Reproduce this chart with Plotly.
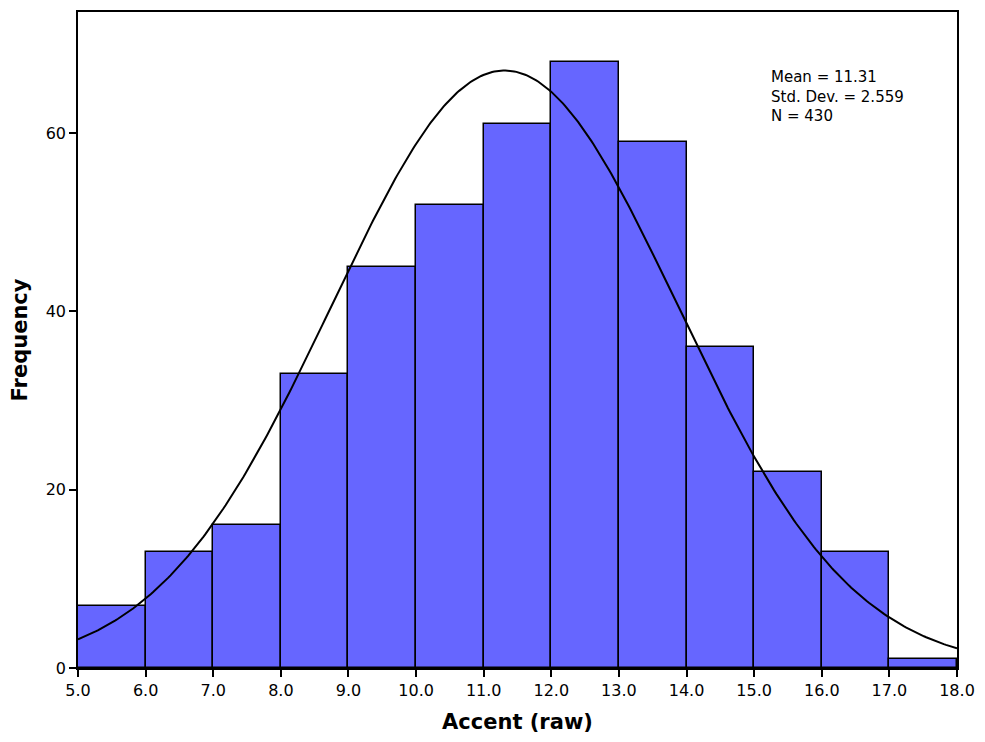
import numpy as np
import plotly.graph_objects as go

# histogram bins (left edges, width 1) and counts
bin_starts = [5, 6, 7, 8, 9, 10, 11, 12, 13, 14, 15, 16, 17]
counts = [7, 13, 16, 33, 45, 52, 61, 68, 59, 36, 22, 13, 1]
bin_width = 1.0

# summary stats printed on the chart
mean = 11.31
std_dev = 2.559
n_obs = 430

x_ticks = [5, 6, 7, 8, 9, 10, 11, 12, 13, 14, 15, 16, 17, 18]
y_ticks = [0, 20, 40, 60]

FONT = "DejaVu Sans"
BAR_BLUE = "#6666ff"

# normal curve scaled to the histogram, as SPSS draws it
curve_x = np.linspace(5, 18, 400)
curve_y = (n_obs * bin_width / (std_dev * np.sqrt(2 * np.pi))
           * np.exp(-0.5 * ((curve_x - mean) / std_dev) ** 2))

fig = go.Figure()
fig.add_trace(go.Bar(
    x=[b + bin_width / 2 for b in bin_starts],
    y=counts,
    width=bin_width,
    marker=dict(color=BAR_BLUE, line=dict(color="black", width=1.5)),
    showlegend=False,
))
fig.add_trace(go.Scatter(
    x=curve_x, y=curve_y, mode="lines",
    line=dict(color="black", width=2), showlegend=False,
))

fig.add_annotation(
    text=f"Mean = {mean}<br>Std. Dev. = {std_dev}<br>N = {n_obs}",
    xref="paper", yref="paper", x=0.786, y=0.918,
    xanchor="left", yanchor="top", align="left", showarrow=False,
    font=dict(family=FONT, size=15, color="black"),
)

axis_common = dict(
    showgrid=False, zeroline=False, showline=True, linecolor="black",
    linewidth=1.5, mirror=True, ticks="outside", ticklen=7,
    tickcolor="black", tickwidth=1.5,
    tickfont=dict(family=FONT, size=16, color="black"),
)
fig.update_xaxes(
    range=[5, 18], tickvals=x_ticks,
    ticktext=[f"{t:.1f}" for t in x_ticks],
    title=dict(text="<b>Accent (raw)</b>", font=dict(family=FONT, size=21, color="black"), standoff=15),
    **axis_common,
)
fig.update_yaxes(
    range=[0, 73.6], tickvals=y_ticks,
    title=dict(text="<b>Frequency</b>", font=dict(family=FONT, size=21, color="black"), standoff=13),
    **axis_common,
)

# page has an 8px body margin, so the figure is sized/offset to land like the reference
fig.update_layout(
    width=969, height=726,
    margin=dict(l=70, r=19, t=2, b=66),
    plot_bgcolor="white", paper_bgcolor="white",
    bargap=0,
)

fig.write_html("out.html")
